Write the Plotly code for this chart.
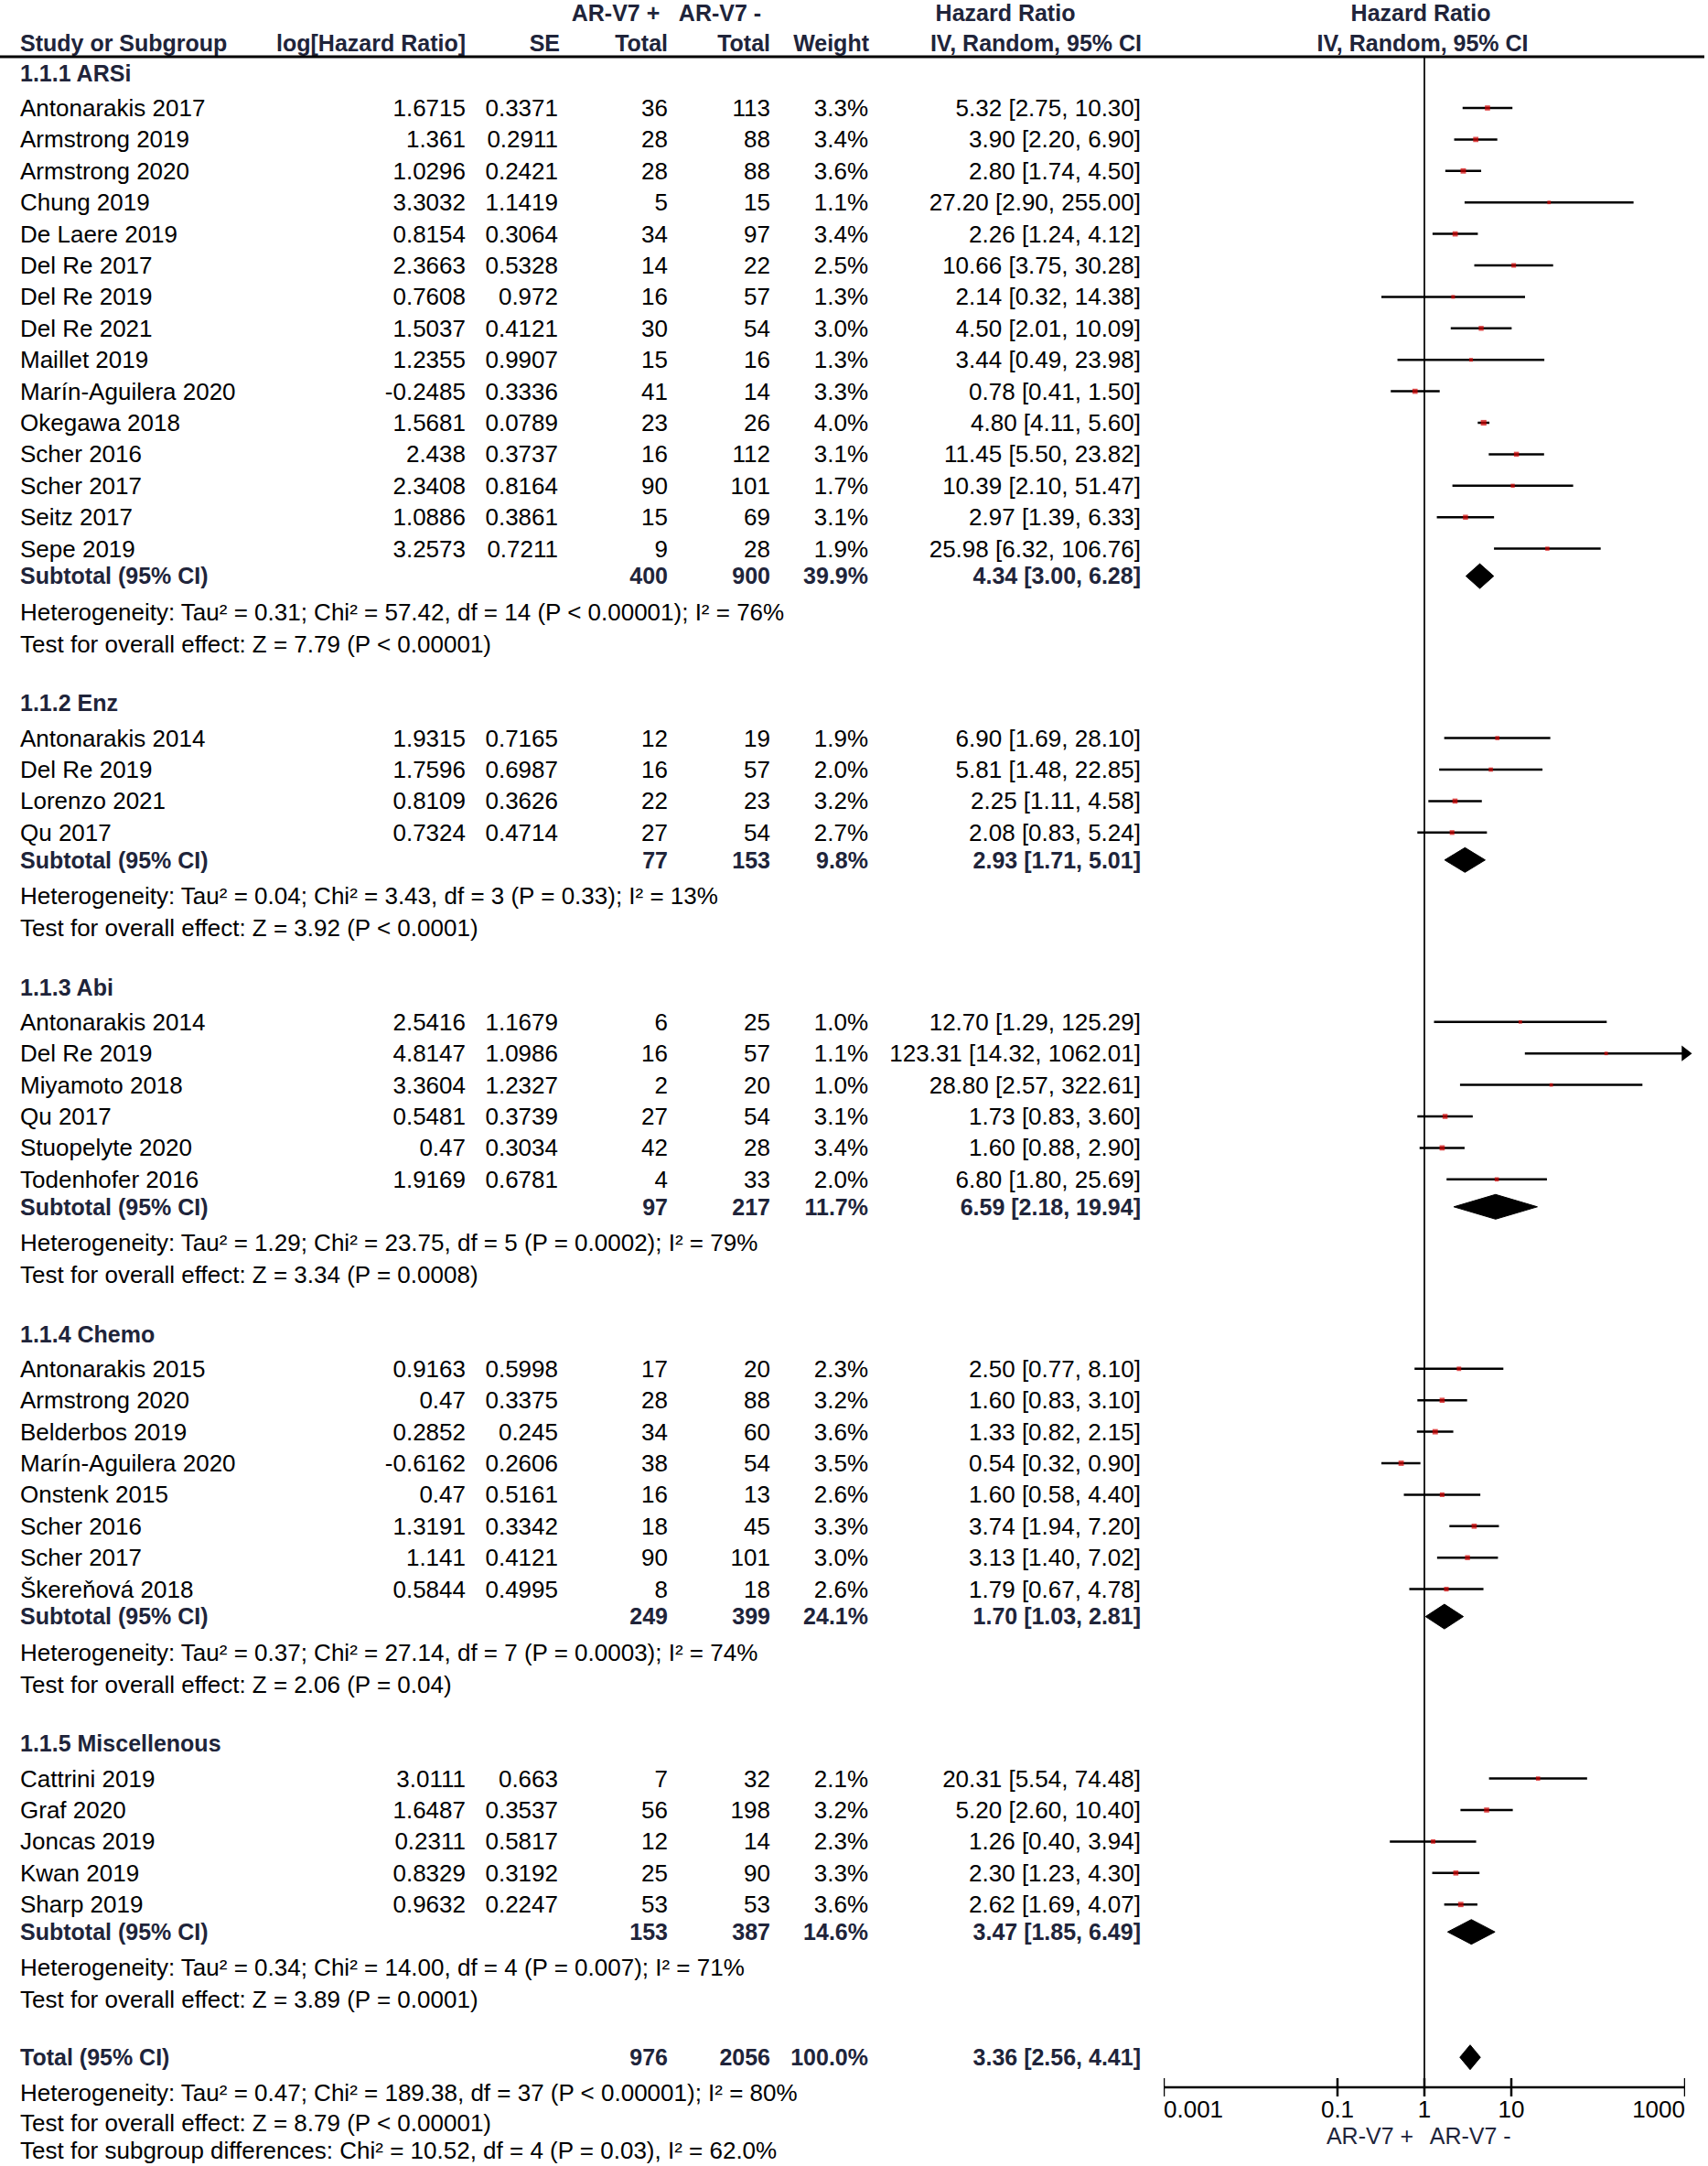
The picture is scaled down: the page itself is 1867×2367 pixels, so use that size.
import plotly.graph_objects as go

# ---- data ----
groups = ["1.1.1 ARSi", "1.1.2 Enz", "1.1.3 Abi", "1.1.4 Chemo", "1.1.5 Miscellenous"]

studies = [
    ["Antonarakis 2017", "Armstrong 2019", "Armstrong 2020", "Chung 2019", "De Laere 2019",
     "Del Re 2017", "Del Re 2019", "Del Re 2021", "Maillet 2019", "Marín-Aguilera 2020",
     "Okegawa 2018", "Scher 2016", "Scher 2017", "Seitz 2017", "Sepe 2019"],
    ["Antonarakis 2014", "Del Re 2019", "Lorenzo 2021", "Qu 2017"],
    ["Antonarakis 2014", "Del Re 2019", "Miyamoto 2018", "Qu 2017", "Stuopelyte 2020", "Todenhofer 2016"],
    ["Antonarakis 2015", "Armstrong 2020", "Belderbos 2019", "Marín-Aguilera 2020", "Onstenk 2015",
     "Scher 2016", "Scher 2017", "Škereňová 2018"],
    ["Cattrini 2019", "Graf 2020", "Joncas 2019", "Kwan 2019", "Sharp 2019"],
]
log_hr = [
    [1.6715, 1.361, 1.0296, 3.3032, 0.8154, 2.3663, 0.7608, 1.5037, 1.2355, -0.2485, 1.5681, 2.438, 2.3408, 1.0886, 3.2573],
    [1.9315, 1.7596, 0.8109, 0.7324],
    [2.5416, 4.8147, 3.3604, 0.5481, 0.47, 1.9169],
    [0.9163, 0.47, 0.2852, -0.6162, 0.47, 1.3191, 1.141, 0.5844],
    [3.0111, 1.6487, 0.2311, 0.8329, 0.9632],
]
se = [
    [0.3371, 0.2911, 0.2421, 1.1419, 0.3064, 0.5328, 0.972, 0.4121, 0.9907, 0.3336, 0.0789, 0.3737, 0.8164, 0.3861, 0.7211],
    [0.7165, 0.6987, 0.3626, 0.4714],
    [1.1679, 1.0986, 1.2327, 0.3739, 0.3034, 0.6781],
    [0.5998, 0.3375, 0.245, 0.2606, 0.5161, 0.3342, 0.4121, 0.4995],
    [0.663, 0.3537, 0.5817, 0.3192, 0.2247],
]
n_pos = [
    [36, 28, 28, 5, 34, 14, 16, 30, 15, 41, 23, 16, 90, 15, 9],
    [12, 16, 22, 27],
    [6, 16, 2, 27, 42, 4],
    [17, 28, 34, 38, 16, 18, 90, 8],
    [7, 56, 12, 25, 53],
]
n_neg = [
    [113, 88, 88, 15, 97, 22, 57, 54, 16, 14, 26, 112, 101, 69, 28],
    [19, 57, 23, 54],
    [25, 57, 20, 54, 28, 33],
    [20, 88, 60, 54, 13, 45, 101, 18],
    [32, 198, 14, 90, 53],
]
weight = [
    [3.3, 3.4, 3.6, 1.1, 3.4, 2.5, 1.3, 3.0, 1.3, 3.3, 4.0, 3.1, 1.7, 3.1, 1.9],
    [1.9, 2.0, 3.2, 2.7],
    [1.0, 1.1, 1.0, 3.1, 3.4, 2.0],
    [2.3, 3.2, 3.6, 3.5, 2.6, 3.3, 3.0, 2.6],
    [2.1, 3.2, 2.3, 3.3, 3.6],
]
hr = [
    [5.32, 3.90, 2.80, 27.20, 2.26, 10.66, 2.14, 4.50, 3.44, 0.78, 4.80, 11.45, 10.39, 2.97, 25.98],
    [6.90, 5.81, 2.25, 2.08],
    [12.70, 123.31, 28.80, 1.73, 1.60, 6.80],
    [2.50, 1.60, 1.33, 0.54, 1.60, 3.74, 3.13, 1.79],
    [20.31, 5.20, 1.26, 2.30, 2.62],
]
hr_lo = [
    [2.75, 2.20, 1.74, 2.90, 1.24, 3.75, 0.32, 2.01, 0.49, 0.41, 4.11, 5.50, 2.10, 1.39, 6.32],
    [1.69, 1.48, 1.11, 0.83],
    [1.29, 14.32, 2.57, 0.83, 0.88, 1.80],
    [0.77, 0.83, 0.82, 0.32, 0.58, 1.94, 1.40, 0.67],
    [5.54, 2.60, 0.40, 1.23, 1.69],
]
hr_hi = [
    [10.30, 6.90, 4.50, 255.00, 4.12, 30.28, 14.38, 10.09, 23.98, 1.50, 5.60, 23.82, 51.47, 6.33, 106.76],
    [28.10, 22.85, 4.58, 5.24],
    [125.29, 1062.01, 322.61, 3.60, 2.90, 25.69],
    [8.10, 3.10, 2.15, 0.90, 4.40, 7.20, 7.02, 4.78],
    [74.48, 10.40, 3.94, 4.30, 4.07],
]
sub_pos = [400, 77, 97, 249, 153]
sub_neg = [900, 153, 217, 399, 387]
sub_weight = [39.9, 9.8, 11.7, 24.1, 14.6]
sub_hr = [4.34, 2.93, 6.59, 1.70, 3.47]
sub_lo = [3.00, 1.71, 2.18, 1.03, 1.85]
sub_hi = [6.28, 5.01, 19.94, 2.81, 6.49]
sub_het = [
    "Heterogeneity: Tau² = 0.31; Chi² = 57.42, df = 14 (P < 0.00001); I² = 76%",
    "Heterogeneity: Tau² = 0.04; Chi² = 3.43, df = 3 (P = 0.33); I² = 13%",
    "Heterogeneity: Tau² = 1.29; Chi² = 23.75, df = 5 (P = 0.0002); I² = 79%",
    "Heterogeneity: Tau² = 0.37; Chi² = 27.14, df = 7 (P = 0.0003); I² = 74%",
    "Heterogeneity: Tau² = 0.34; Chi² = 14.00, df = 4 (P = 0.007); I² = 71%",
]
sub_test = [
    "Test for overall effect: Z = 7.79 (P < 0.00001)",
    "Test for overall effect: Z = 3.92 (P < 0.0001)",
    "Test for overall effect: Z = 3.34 (P = 0.0008)",
    "Test for overall effect: Z = 2.06 (P = 0.04)",
    "Test for overall effect: Z = 3.89 (P = 0.0001)",
]
tot_pos, tot_neg, tot_weight = 976, 2056, 100.0
tot_hr, tot_lo, tot_hi = 3.36, 2.56, 4.41
tot_notes = [
    "Heterogeneity: Tau² = 0.47; Chi² = 189.38, df = 37 (P < 0.00001); I² = 80%",
    "Test for overall effect: Z = 8.79 (P < 0.00001)",
    "Test for subgroup differences: Chi² = 10.52, df = 4 (P = 0.03), I² = 62.0%",
]
axis_ticks = [0.001, 0.1, 1, 10, 1000]
axis_ticklabels = ["0.001", "0.1", "1", "10", "1000"]
favours = ["AR-V7 +", "AR-V7 -"]

# ---- layout of the table (pixel units) ----
W, H = 1867, 2367
FONT = "Liberation Sans, Arial, sans-serif"
FS = 26      # regular text
FSB = 25     # bold text
BOLD_C = "#20243a"
col_name, col_log, col_se, col_np, col_nn, col_w, col_ci = 22, 509, 610, 730, 842, 949, 1247
PITCH = 34.4
DH = 13.5   # diamond half height
TY = 2.5    # text baseline nudge so caps sit centred on the row


def ci_txt(h, l, u):
    return f"{h:.2f} [{l:.2f}, {u:.2f}]"


cells = {"x": [], "y": [], "text": [], "pos": [], "color": [], "size": []}


def cell(x, y, t, pos, bold=False):
    cells["x"].append(x)
    cells["y"].append(y + TY)
    cells["text"].append(f"<b>{t}</b>" if bold else t)
    cells["pos"].append(pos)
    cells["color"].append(BOLD_C if bold else "black")
    cells["size"].append(FSB if bold else FS)


# header
cell(673, 14, "AR-V7 +", "middle center", True)
cell(787, 14, "AR-V7 -", "middle center", True)
cell(1099, 14, "Hazard Ratio", "middle center", True)
cell(1553, 14, "Hazard Ratio", "middle center", True)
cell(col_name, 47, "Study or Subgroup", "middle right", True)
cell(col_log, 47, "log[Hazard Ratio]", "middle left", True)
cell(612, 47, "SE", "middle left", True)
cell(col_np, 47, "Total", "middle left", True)
cell(col_nn, 47, "Total", "middle left", True)
cell(950, 47, "Weight", "middle left", True)
cell(1248, 47, "IV, Random, 95% CI", "middle left", True)
cell(1555, 47, "IV, Random, 95% CI", "middle center", True)

ci_x, ci_y = [], []
pt_x, pt_y, pt_s = [], [], []
dm_x, dm_y = [], []
arr_x, arr_y = [], []

cur = 80
for g in range(len(groups)):
    cell(col_name, cur, groups[g], "middle right", True)
    y = cur + 38
    for i in range(len(studies[g])):
        cell(col_name, y, studies[g][i], "middle right")
        cell(col_log, y, str(log_hr[g][i]), "middle left")
        cell(col_se, y, str(se[g][i]), "middle left")
        cell(col_np, y, str(n_pos[g][i]), "middle left")
        cell(col_nn, y, str(n_neg[g][i]), "middle left")
        cell(col_w, y, f"{weight[g][i]:.1f}%", "middle left")
        cell(col_ci, y, ci_txt(hr[g][i], hr_lo[g][i], hr_hi[g][i]), "middle left")
        hi = hr_hi[g][i]
        if hi > axis_ticks[-1]:
            hi = axis_ticks[-1]
            arr_x.append(hi)
            arr_y.append(y)
        ci_x += [hr_lo[g][i], hi, None]
        ci_y += [y, y, None]
        pt_x.append(hr[g][i])
        pt_y.append(y)
        pt_s.append(3 + 0.8 * weight[g][i])
        y += PITCH
    y = y - PITCH + 30
    cell(col_name, y, "Subtotal (95% CI)", "middle right", True)
    cell(col_np, y, str(sub_pos[g]), "middle left", True)
    cell(col_nn, y, str(sub_neg[g]), "middle left", True)
    cell(col_w, y, f"{sub_weight[g]:.1f}%", "middle left", True)
    cell(col_ci, y, ci_txt(sub_hr[g], sub_lo[g], sub_hi[g]), "middle left", True)
    dm_x += [sub_lo[g], sub_hr[g], sub_hi[g], sub_hr[g], sub_lo[g], None]
    dm_y += [y, y - DH, y, y + DH, y, None]
    y += 39
    cell(col_name, y, sub_het[g], "middle right")
    y += 35
    cell(col_name, y, sub_test[g], "middle right")
    cur = y + 65

# overall
y = cur - 2
cell(col_name, y, "Total (95% CI)", "middle right", True)
cell(col_np, y, str(tot_pos), "middle left", True)
cell(col_nn, y, str(tot_neg), "middle left", True)
cell(col_w, y, f"{tot_weight:.1f}%", "middle left", True)
cell(col_ci, y, ci_txt(tot_hr, tot_lo, tot_hi), "middle left", True)
dm_x += [tot_lo, tot_hr, tot_hi, tot_hr, tot_lo, None]
dm_y += [y, y - DH, y, y + DH, y, None]
y += 39
cell(col_name, y, tot_notes[0], "middle right")
y += 33
cell(col_name, y, tot_notes[1], "middle right")
y += 30
cell(col_name, y, tot_notes[2], "middle right")

axis_y = 2281
top_y = 62

fig = go.Figure()

# table text (linear pixel axis x)
fig.add_trace(go.Scatter(
    x=cells["x"], y=cells["y"], text=cells["text"], mode="text",
    textposition=cells["pos"], textfont=dict(family=FONT, size=cells["size"], color=cells["color"]),
    cliponaxis=False, xaxis="x", yaxis="y", hoverinfo="skip", showlegend=False))

# forest plot on log axis x2
fx = dict(xaxis="x2", yaxis="y", hoverinfo="skip", showlegend=False)
# line of no effect
fig.add_trace(go.Scatter(x=[1, 1], y=[top_y, axis_y], mode="lines",
                         line=dict(color="#222", width=2), **fx))
# confidence intervals
fig.add_trace(go.Scatter(x=ci_x, y=ci_y, mode="lines",
                         line=dict(color="black", width=2.5), **fx))
# arrows for CIs past the axis
fig.add_trace(go.Scatter(x=arr_x, y=arr_y, mode="markers", cliponaxis=False,
                         marker=dict(symbol="triangle-right", size=15, color="black"), **fx))
# study estimates
fig.add_trace(go.Scatter(x=pt_x, y=pt_y, mode="markers",
                         marker=dict(symbol="square", size=pt_s, color="#d40000", line=dict(width=0)), **fx))
# pooled diamonds
fig.add_trace(go.Scatter(x=dm_x, y=dm_y, mode="lines", fill="toself", fillcolor="black",
                         line=dict(color="black", width=1), **fx))

# scale at the bottom
fig.add_trace(go.Scatter(x=[axis_ticks[0], axis_ticks[-1]], y=[axis_y, axis_y], mode="lines",
                         cliponaxis=False, line=dict(color="black", width=2.5), **fx))
tk_x, tk_y = [], []
for t in axis_ticks:
    tk_x += [t, t, None]
    tk_y += [axis_y - 10, axis_y + 10, None]
fig.add_trace(go.Scatter(x=tk_x, y=tk_y, mode="lines", cliponaxis=False,
                         line=dict(color="black", width=2.5), **fx))
lab_pos = ["middle right"] + ["middle center"] * (len(axis_ticks) - 2) + ["middle left"]
fig.add_trace(go.Scatter(x=axis_ticks, y=[axis_y + 26] * len(axis_ticks), text=axis_ticklabels,
                         mode="text", textposition=lab_pos, cliponaxis=False,
                         textfont=dict(family=FONT, size=FS, color="black"), **fx))
fig.add_trace(go.Scatter(x=[0.75, 1.15], y=[axis_y + 56, axis_y + 56], text=favours,
                         mode="text", textposition=["middle left", "middle right"], cliponaxis=False,
                         textfont=dict(family=FONT, size=FS - 1, color=BOLD_C), **fx))

fig.update_layout(
    width=W, height=H, margin=dict(l=0, r=0, t=0, b=0),
    plot_bgcolor="rgba(0,0,0,0)", paper_bgcolor="white",
    xaxis=dict(range=[0, W], domain=[0, 1], visible=False),
    xaxis2=dict(type="log", range=[-3, 3], domain=[1272 / W, 1842 / W], anchor="y", visible=False),
    yaxis=dict(range=[H, 0], domain=[0, 1], visible=False),
    shapes=[dict(type="line", xref="paper", yref="y", x0=0, x1=1863 / W, y0=top_y, y1=top_y,
                 line=dict(color="black", width=3))],
    font=dict(family=FONT, size=FS),
)

# drop the default page margin so the figure sits at the window's corner; no modebar
fig.write_html("out.html", config={"displayModeBar": False},
               post_script="document.body.style.margin='0';")
